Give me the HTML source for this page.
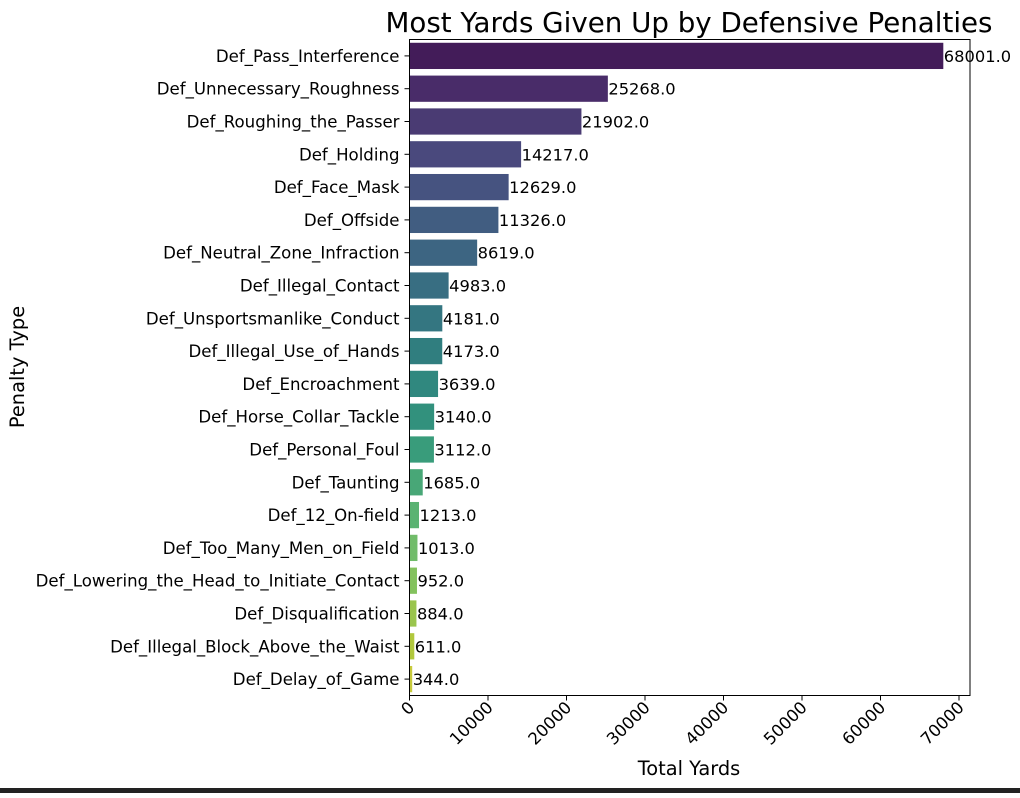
<!DOCTYPE html>
<html><head><meta charset="utf-8"><style>
body{margin:0;background:#fff;}
svg text{font-family:"DejaVu Sans","Liberation Sans",sans-serif;}
</style></head><body>
<svg id="c" width="1020" height="793" xmlns="http://www.w3.org/2000/svg">
<rect x="0" y="788" width="1020" height="5" fill="#222"/>
<text x="689" y="32" font-size="27.7" text-anchor="middle">Most Yards Given Up by Defensive Penalties</text>
<text x="689" y="775" font-size="19.4" text-anchor="middle">Total Yards</text>
<text transform="translate(24,367) rotate(-90)" font-size="19.4" text-anchor="middle">Penalty Type</text>
<g id="bars"></g>
<rect x="409.5" y="39.5" width="560.5" height="656" fill="none" stroke="#000" stroke-width="1"/>
</svg>
<script>
const categories=["Def_Pass_Interference","Def_Unnecessary_Roughness","Def_Roughing_the_Passer","Def_Holding","Def_Face_Mask","Def_Offside","Def_Neutral_Zone_Infraction","Def_Illegal_Contact","Def_Unsportsmanlike_Conduct","Def_Illegal_Use_of_Hands","Def_Encroachment","Def_Horse_Collar_Tackle","Def_Personal_Foul","Def_Taunting","Def_12_On-field","Def_Too_Many_Men_on_Field","Def_Lowering_the_Head_to_Initiate_Contact","Def_Disqualification","Def_Illegal_Block_Above_the_Waist","Def_Delay_of_Game"];
const values=[68001,25268,21902,14217,12629,11326,8619,4983,4181,4173,3639,3140,3112,1685,1213,1013,952,884,611,344];
const xTicks=[0,10000,20000,30000,40000,50000,60000,70000];
const NS="http://www.w3.org/2000/svg";
const L=409.5,R=970,T=39.5,B=695.5;
const xmax=Math.max(...values)*1.05;
const x=v=>L+(R-L)*v/xmax;
const step=(B-T)/categories.length;
const y=i=>T+step*(i+0.5);
const vir=["#440154","#482475","#414487","#355f8d","#2a788e","#21918c","#22a884","#44bf70","#7ad151","#bddf26","#fde725"];
function hx(h){return [1,3,5].map(k=>parseInt(h.substr(k,2),16));}
function desat(rgb,s){
  const [r,g,b]=rgb.map(v=>v/255);const mx=Math.max(r,g,b),mn=Math.min(r,g,b);const l=(mx+mn)/2;
  return [r,g,b].map(c=>Math.round((l+(c-l)*s)*255));
}
function viridis(t){const p=t*10,i=Math.min(9,Math.floor(p)),f=p-i;const a=hx(vir[i]),b=hx(vir[i+1]);const c=a.map((v,k)=>v+(b[k]-v)*f);return "rgb("+desat(c,0.75).join(",")+")";}
const g=document.getElementById('bars');
function mk(tag,attrs,parent){const e=document.createElementNS(NS,tag);for(const k in attrs)e.setAttribute(k,attrs[k]);(parent||g).appendChild(e);return e;}
categories.forEach((c,i)=>{
  const bh=step*0.8;
  const r=mk('rect',{x:L,y:y(i)-bh/2,width:x(values[i])-L,height:bh,fill:viridis((i+1)/(categories.length+1))});
  
  
  const t=mk('text',{x:x(values[i])+0.5,y:y(i)+6,'font-size':16.3});
  t.textContent=values[i].toFixed(1);
  
  
  const tk=mk('line',{x1:L-5,x2:L,y1:y(i),y2:y(i),stroke:'#000'});
  
  
  const lb=mk('text',{x:L-10,y:y(i)+6,'font-size':16.6,'text-anchor':'end'});
  lb.textContent=c;
  
  
});
xTicks.forEach(v=>{
  const tk=mk('line',{x1:x(v),x2:x(v),y1:B,y2:B+5,stroke:'#000'});
  
  
  const lb=mk('text',{x:0,y:0,'font-size':16.6,'text-anchor':'end',transform:`translate(${x(v)+6},${B+13}) rotate(-45)`});
  lb.textContent=String(v);
  
  
});
</script>
</body></html>
